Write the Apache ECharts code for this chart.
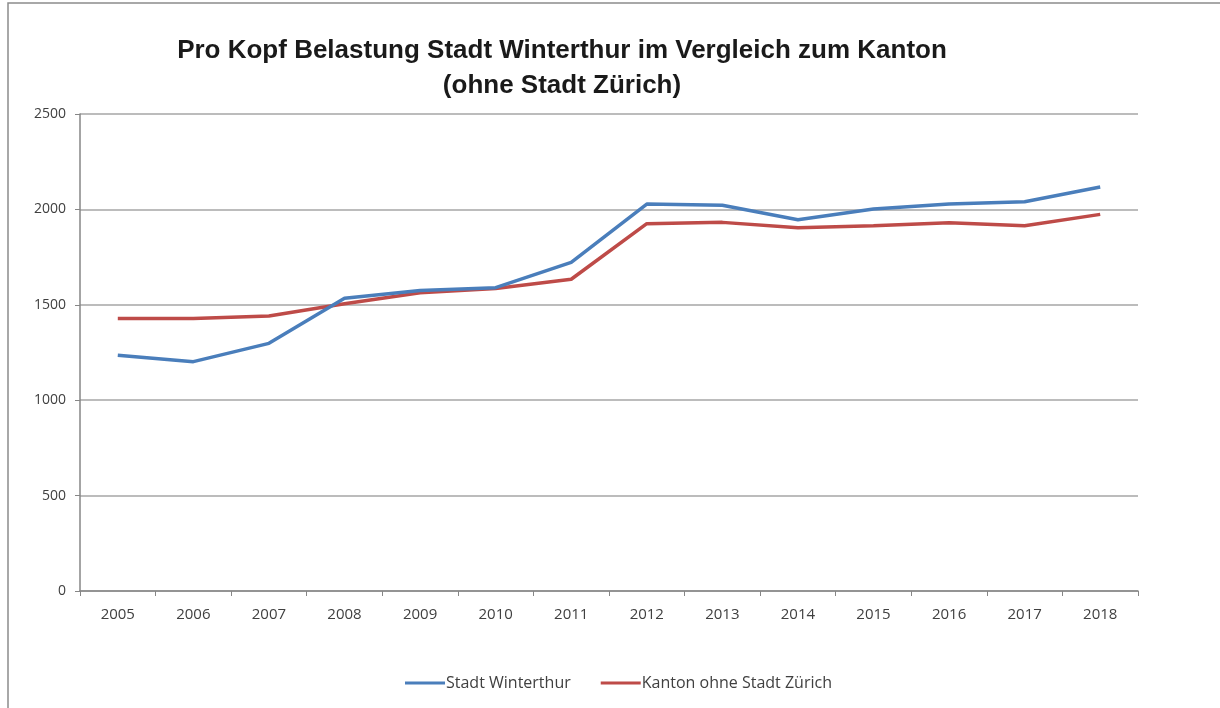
<!DOCTYPE html>
<html><head><meta charset="utf-8">
<script src="https://cdn.jsdelivr.net/npm/echarts@6/dist/echarts.min.js"></script>
<style>html,body{margin:0;padding:0;background:#fff}#c{width:1220px;height:708px}</style>
</head><body><div id="c"></div>
<script>
const years = ['2005','2006','2007','2008','2009','2010','2011','2012','2013','2014','2015','2016','2017','2018'];
const winterthur = [1236, 1202, 1298, 1534, 1575, 1590, 1722, 2028, 2022, 1946, 2002, 2028, 2040, 2117];
const kanton = [1428, 1428, 1441, 1506, 1563, 1585, 1634, 1925, 1932, 1904, 1914, 1930, 1914, 1974];
const yTicks = [0, 500, 1000, 1500, 2000, 2500];

const chart = echarts.init(document.getElementById('c'));
const font = "'Open Sans', 'DejaVu Sans', sans-serif";
chart.setOption({
  backgroundColor: '#fff',
  animation: false,
  graphic: [{
    type: 'rect', shape: {x: 8, y: 3, width: 1300, height: 800},
    style: {fill: 'none', stroke: '#8c8c8c', lineWidth: 1.5}, silent: true, z: -1
  }],
  title: {
    text: 'Pro Kopf Belastung Stadt Winterthur im Vergleich zum Kanton\n(ohne Stadt Zürich)',
    left: 557, top: 28, textAlign: 'center',
    textStyle: {fontFamily: "'Liberation Sans', Arial, sans-serif", fontSize: 26, fontWeight: 'bold', color: '#1a1a1a', lineHeight: 35}
  },
  legend: {
    bottom: 12, left: 400, itemWidth: 40, itemHeight: 3, itemGap: 30,
    icon: 'rect',
    textStyle: {fontFamily: font, fontSize: 16, color: '#404040', padding: [0,0,0,-4]},
    data: ['Stadt Winterthur', 'Kanton ohne Stadt Zürich']
  },
  grid: {left: 80, right: 82, top: 114, bottom: 117},
  xAxis: {
    type: 'category', data: years, boundaryGap: true,
    axisLine: {lineStyle: {color: '#868686', width: 1.5}},
    axisTick: {show: true, length: 5, lineStyle: {color: '#868686'}},
    axisLabel: {fontFamily: font, fontSize: 15, color: '#404040', margin: 16}
  },
  yAxis: {
    type: 'value', min: yTicks[0], max: yTicks[yTicks.length-1], interval: 500,
    axisLine: {show: true, lineStyle: {color: '#868686', width: 1.5}},
    axisTick: {show: true, length: 5, lineStyle: {color: '#868686'}},
    axisLabel: {fontFamily: font, fontSize: 14, color: '#404040', margin: 14, formatter: v => String(v)},
    splitLine: {lineStyle: {color: '#a6a6a6', width: 1.5}}
  },
  series: [
    {name: 'Stadt Winterthur', type: 'line', data: winterthur, symbol: 'none',
     lineStyle: {color: '#4a7ebb', width: 3.5}, itemStyle: {color: '#4a7ebb'}, z: 3},
    {name: 'Kanton ohne Stadt Zürich', type: 'line', data: kanton, symbol: 'none',
     lineStyle: {color: '#be4b48', width: 3.5}, itemStyle: {color: '#be4b48'}, z: 2}
  ]
});
</script></body></html>
